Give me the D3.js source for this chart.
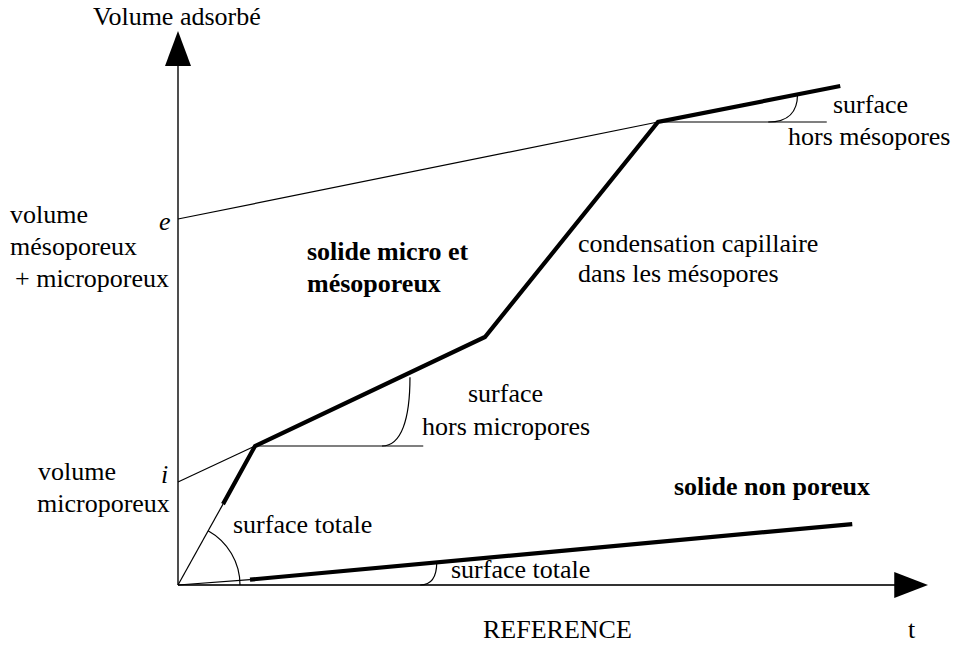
<!DOCTYPE html>
<html>
<head>
<meta charset="utf-8">
<script src="https://cdn.jsdelivr.net/npm/d3@7"></script>
<style>
  body { margin: 0; background: #fff; }
</style>
</head>
<body>
<div id="chart"></div>
<script>
// t-plot schematic, values in arbitrary units (t: 0-100, volume: 0-100)
const microMesoCurve = [[6.0, 14.6], [10.27, 25.09], [40.93, 44.77], [64.0, 83.57], [88.3, 90.07]];
const microMesoStart = [[0, 0], [6.0, 14.6]];
const nonPorousCurve = [[9.6, 0.97], [89.9, 11.0]];
const nonPorousStart = [[0, 0], [9.6, 0.97]];
const interceptI = 18.6;   // volume microporeux
const interceptE = 66.06;  // volume mésoporeux + microporeux
const microTangent = [[0, interceptI], [10.27, 25.09]];
const mesoTangent = [[0, interceptE], [64.0, 83.57]];
const microHorizontal = [[10.27, 25.09], [32.7, 25.09]];
const mesoHorizontal = [[64.0, 83.57], [86.5, 83.57]];
// angle marks: start point on slope, end point on horizontal reference
const angleMarks = [
  { from: [30.93, 37.5], to: [27.2, 25.09] },
  { from: [82.6, 88.5], to: [78.7, 83.57] },
  { from: [34.5, 4.15], to: [32.3, 0] }
];

async function draw() {
  const dimensions = { width: 955, height: 645 };
  const serif = '"Liberation Serif", "Times New Roman", Times, "DejaVu Serif", serif';

  const svg = d3.select("#chart")
    .append("svg")
    .attr("width", dimensions.width)
    .attr("height", dimensions.height)
    .attr("font-family", serif)
    .attr("font-size", 26);

  const xScale = d3.scaleLinear().domain([0, 100]).range([178, 928]);
  const yScale = d3.scaleLinear().domain([0, 100]).range([585, 31]);

  const line = d3.line()
    .x(d => xScale(d[0]))
    .y(d => yScale(d[1]));

  // Axes
  const axes = svg.append("g");
  axes.append("line")
    .attr("x1", xScale(0)).attr("y1", yScale(0))
    .attr("x2", xScale(0)).attr("y2", yScale(94))
    .attr("stroke", "#222").attr("stroke-width", 1.6);
  axes.append("line")
    .attr("x1", xScale(0)).attr("y1", yScale(0))
    .attr("x2", xScale(96)).attr("y2", yScale(0))
    .attr("stroke", "#333").attr("stroke-width", 1.8);

  const ox = xScale(0), oy = yScale(0);
  axes.append("path")
    .attr("d", `M${ox},${yScale(100)} L${ox - 13},${yScale(93.7)} L${ox + 13},${yScale(93.7)} Z`)
    .attr("fill", "#000");
  axes.append("path")
    .attr("d", `M${xScale(100)},${oy} L${xScale(95.5)},${oy - 13} L${xScale(95.5)},${oy + 13} Z`)
    .attr("fill", "#000");

  // Thin construction lines
  const thin = [microMesoStart, nonPorousStart, microTangent, mesoTangent, microHorizontal, mesoHorizontal];
  svg.append("g").selectAll("path")
    .data(thin)
    .join("path")
    .attr("d", line)
    .attr("fill", "none")
    .attr("stroke", "#000")
    .attr("stroke-width", 1.2);

  // Thick isotherms
  svg.append("g").selectAll("path")
    .data([microMesoCurve, nonPorousCurve])
    .join("path")
    .attr("d", line)
    .attr("fill", "none")
    .attr("stroke", "#000")
    .attr("stroke-width", 4.2)
    .attr("stroke-linejoin", "miter");

  // Angle arcs
  svg.append("g").selectAll("path")
    .data(angleMarks)
    .join("path")
    .attr("d", d => {
      const sx = xScale(d.from[0]), sy = yScale(d.from[1]);
      const ex = xScale(d.to[0]), ey = yScale(d.to[1]);
      return `M${sx},${sy} C${sx},${sy + 0.6 * (ey - sy)} ${sx - 0.3 * (sx - ex)},${ey} ${ex},${ey}`;
    })
    .attr("fill", "none")
    .attr("stroke", "#000")
    .attr("stroke-width", 1.2);

  // circular arc at origin for "surface totale"
  const k = microMesoCurve[1];
  const ang = Math.atan2(oy - yScale(k[1]), xScale(k[0]) - ox);
  const r = 62;
  svg.append("path")
    .attr("d", `M${ox + r * Math.cos(ang)},${oy - r * Math.sin(ang)} A${r},${r} 0 0 1 ${ox + r},${oy}`)
    .attr("fill", "none")
    .attr("stroke", "#000")
    .attr("stroke-width", 1.2);

  // Labels
  const labels = [
    { t: "Volume adsorbé", x: 93, y: 25 },
    { t: "volume", x: 10, y: 223 },
    { t: "mésoporeux", x: 10, y: 255 },
    { t: "+ microporeux", x: 15, y: 287 },
    { t: "e", x: 159, y: 230, italic: true },
    { t: "i", x: 161, y: 483, italic: true },
    { t: "volume", x: 38, y: 480 },
    { t: "microporeux", x: 37, y: 512 },
    { t: "solide micro et", x: 307, y: 260, bold: true },
    { t: "mésoporeux", x: 307, y: 292, bold: true },
    { t: "condensation capillaire", x: 578, y: 252 },
    { t: "dans les mésopores", x: 578, y: 282 },
    { t: "surface", x: 833, y: 113 },
    { t: "hors mésopores", x: 788, y: 145 },
    { t: "surface", x: 468, y: 402 },
    { t: "hors micropores", x: 422, y: 435 },
    { t: "solide non poreux", x: 674, y: 495, bold: true },
    { t: "surface totale", x: 233, y: 533 },
    { t: "surface totale", x: 451, y: 578 },
    { t: "REFERENCE", x: 483, y: 638 },
    { t: "t", x: 908, y: 638 }
  ];

  svg.append("g").selectAll("text")
    .data(labels)
    .join("text")
    .attr("x", d => d.x)
    .attr("y", d => d.y)
    .attr("fill", "#000")
    .attr("font-weight", d => d.bold ? "bold" : "normal")
    .attr("font-style", d => d.italic ? "italic" : "normal")
    .text(d => d.t);
}

draw();
</script>
</body>
</html>
